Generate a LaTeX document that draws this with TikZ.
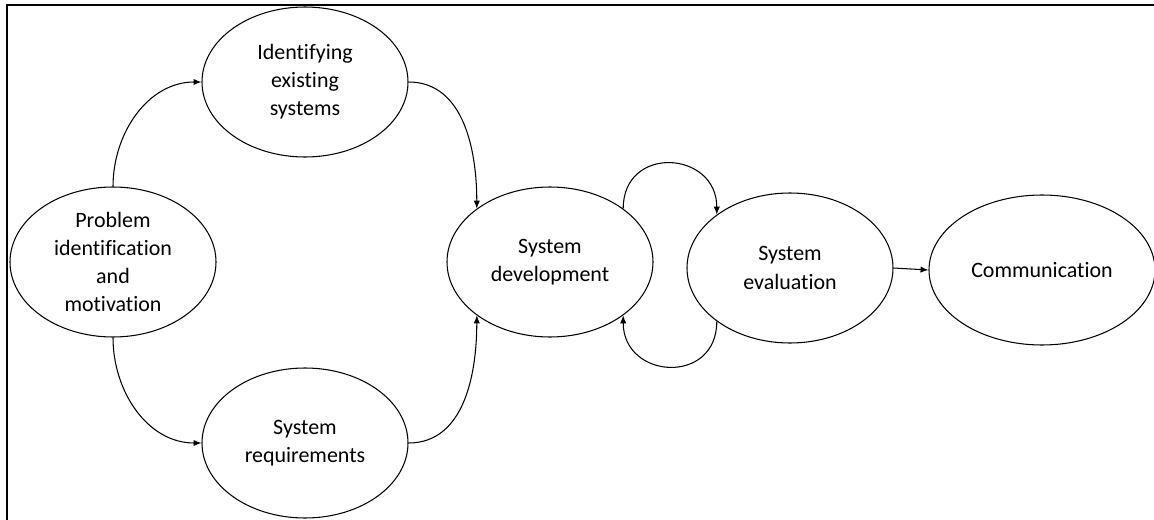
\documentclass[tikz,border=0pt]{standalone}
\usepackage{fontspec}
\setmainfont{Carlito}[Ligatures=CommonOff]
\usetikzlibrary{shapes.geometric, arrows.meta}

\begin{document}
\begin{tikzpicture}[
        stage/.style={ellipse, draw, line width=0.6pt, inner sep=0pt,
            minimum width=4.12cm, minimum height=3cm, align=center,
            font=\fontsize{12.5}{16}\selectfont},
        flow/.style={-{Latex[length=4.5pt, width=3.6pt]}, line width=0.6pt}
    ]
        \useasboundingbox (0,0) rectangle (23.08,10.38);
        \clip (0,0) rectangle (23.08,10.38);
        \draw[line width=1pt] (0.14,-1) rectangle (24,10.28);

        \node[stage] (problem) at (2.26,5.14) {Problem\\identification\\and\\motivation};
        \node[stage] (existing) at (6.10,8.74) {Identifying\\existing\\systems};
        \node[stage] (requirements) at (6.10,1.52) {System\\requirements};
        \node[stage] (development) at (11.00,5.14) {System\\development};
        \node[stage] (evaluation) at (15.80,5.02) {System\\evaluation};
        \node[stage, minimum width=4.52cm] (communication) at (20.84,4.98) {Communication};

        \draw[flow] (problem.north) to[out=90, in=180] (existing.west);
        \draw[flow] (problem.south) to[out=-90, in=180] (requirements.west);
        \draw[flow] (existing.east) to[out=0, in=90] (development.north west);
        \draw[flow] (requirements.east) to[out=0, in=-90] (development.south west);
        \draw[flow] (development.north east) to[out=90, in=90, looseness=1.75]
            (evaluation.north west);
        \draw[flow] (evaluation.south west) to[out=-90, in=-90, looseness=1.75]
            (development.south east);
        \draw[flow] (evaluation.east) -- (communication.west);
    \end{tikzpicture}
\end{document}
